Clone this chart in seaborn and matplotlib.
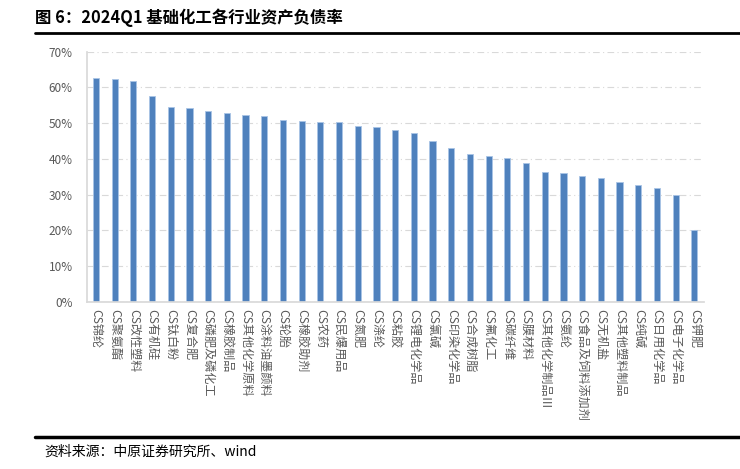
import pandas as pd
import matplotlib
matplotlib.use("Agg")
import matplotlib.pyplot as plt
import seaborn as sns
from matplotlib.ticker import PercentFormatter
from matplotlib.lines import Line2D

# 数据：2024Q1 基础化工各行业资产负债率
industries = [
    "CS锦纶", "CS聚氨酯", "CS改性塑料", "CS有机硅", "CS钛白粉", "CS复合肥",
    "CS磷肥及磷化工", "CS橡胶制品", "CS其他化学原料", "CS涂料油墨颜料", "CS轮胎",
    "CS橡胶助剂", "CS农药", "CS民爆用品", "CS氮肥", "CS涤纶", "CS粘胶",
    "CS锂电化学品", "CS氯碱", "CS印染化学品", "CS合成树脂", "CS氟化工",
    "CS碳纤维", "CS膜材料", "CS其他化学制品Ⅲ", "CS氨纶", "CS食品及饲料添加剂",
    "CS无机盐", "CS其他塑料制品", "CS纯碱", "CS日用化学品", "CS电子化学品", "CS钾肥",
]
debt_ratio = [
    62.7, 62.4, 61.9, 57.5, 54.4, 54.1, 53.3, 52.8, 52.3, 52.0, 50.8,
    50.7, 50.3, 50.2, 49.1, 48.9, 48.0, 47.1, 44.9, 43.1, 41.3, 40.7,
    40.3, 38.9, 36.4, 36.1, 35.3, 34.6, 33.5, 32.6, 31.9, 29.9, 20.1,
]

df = pd.DataFrame({"industry": industries, "ratio": [v / 100 for v in debt_ratio]})

sns.set_theme(style="white")
plt.rcParams["font.family"] = ["Noto Sans CJK SC", "DejaVu Sans"]

fig = plt.figure(figsize=(7.4, 4.69), dpi=100)
ax = fig.add_axes([0.117, 0.3567, 0.834, 0.5331])

sns.barplot(data=df, x="industry", y="ratio", color="#4F81BD", width=0.33,
            edgecolor="#A9C4E6", linewidth=0.6, saturation=1, ax=ax)

ax.set_xlim(-0.5, len(industries) - 0.5)
ax.set_ylim(0, 0.7)
ax.set_yticks([i / 10 for i in range(8)])
ax.yaxis.set_major_formatter(PercentFormatter(1.0, decimals=0))
ax.set_xlabel("")
ax.set_ylabel("")

ax.grid(axis="y", color="#D9D9D9", linewidth=0.8, linestyle=(0, (6, 3, 1, 3)))
ax.set_axisbelow(True)
for side in ["top", "right"]:
    ax.spines[side].set_visible(False)
ax.spines["left"].set_color("#D9D9D9")
ax.spines["bottom"].set_color("#D9D9D9")
ax.tick_params(axis="both", length=0, colors="#595959", labelsize=8.5)
ax.tick_params(axis="y", pad=10)
ax.tick_params(axis="x", pad=5)
ax.set_xticks(range(len(industries)))
ax.set_xticklabels(industries, rotation=270, ha="center", va="top", fontsize=8.7)

# 标题与来源
fig.text(0.047, 0.962, "图 6：2024Q1 基础化工各行业资产负债率", fontsize=11.8,
         fontweight="bold", ha="left", va="center", color="black")
fig.add_artist(Line2D([0.047, 1.0], [0.929, 0.929], color="black", linewidth=2))
fig.add_artist(Line2D([0.047, 1.0], [0.068, 0.068], color="black", linewidth=2.5))
fig.text(0.06, 0.036, "资料来源：中原证券研究所、wind", fontsize=10,
         ha="left", va="center", color="black")

fig.savefig("out.png", dpi=100)
